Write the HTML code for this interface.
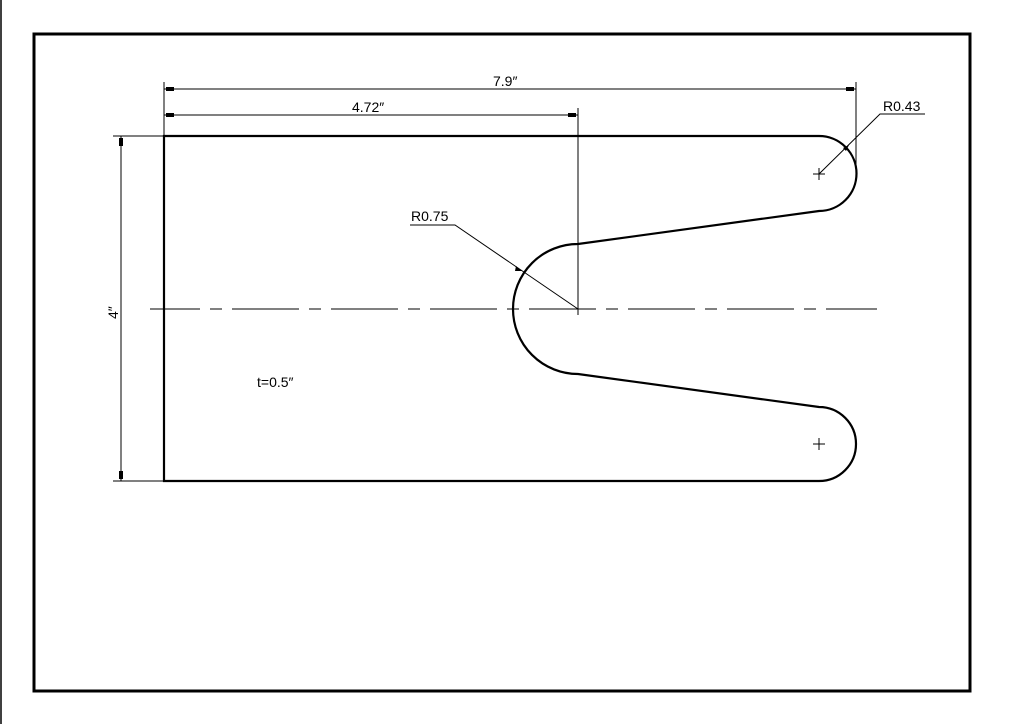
<!DOCTYPE html>
<html><head><meta charset="utf-8"><style>
html,body{margin:0;padding:0;background:#fff;}
svg{display:block;}
text{font-family:"Liberation Sans",sans-serif;font-size:14px;fill:#000;}
</style></head><body>
<svg width="1029" height="724" viewBox="0 0 1029 724" xmlns="http://www.w3.org/2000/svg">
<rect x="0" y="0" width="1029" height="724" fill="#fff"/>
<line x1="1" y1="0" x2="1" y2="724" stroke="#000" stroke-width="1.5"/>
<rect x="34" y="34" width="936" height="657" fill="none" stroke="#000" stroke-width="3"/>
<path d="M164,136 L819,136 A37,37 0 0 1 819,211 L578,244 A65,65 0 0 0 578,374 L819,407 A37,37 0 0 1 819,481 L164,481 Z" fill="none" stroke="#000" stroke-width="2.2"/>
<line x1="150" y1="309" x2="877" y2="309" stroke="#000" stroke-width="1" stroke-dasharray="50 10 12 10 67 10 12 10 67 10 12 10 67 10 12 10 67 10 12 10 67 10 12 10 67 10 12 10 67 10 12 10 67 10 12 10 67 10 12 10 67 10"/>
<g stroke="#000" stroke-width="1" fill="none">
<line x1="164" y1="82" x2="164" y2="136"/>
<line x1="856" y1="82" x2="856" y2="180"/>
<line x1="164" y1="89" x2="856" y2="89"/>
<line x1="164" y1="115" x2="578" y2="115"/>
<line x1="578" y1="108" x2="578" y2="315"/>
<line x1="572" y1="309" x2="584" y2="309"/>
<line x1="113" y1="136" x2="164" y2="136"/>
<line x1="113" y1="481" x2="164" y2="481"/>
<line x1="121" y1="136" x2="121" y2="481"/>
<polyline points="819,174 880,114 925,114"/>
<polyline points="578,309 455,225 410,225"/>
<line x1="813" y1="174" x2="825" y2="174"/><line x1="819" y1="168" x2="819" y2="180"/>
<line x1="813" y1="444" x2="825" y2="444"/><line x1="819" y1="438" x2="819" y2="450"/>
</g>
<g fill="#000">
<rect x="166" y="87" width="8" height="4"/>
<rect x="846" y="87" width="8" height="4"/>
<rect x="166" y="113" width="8" height="4"/>
<rect x="568" y="113" width="8" height="4"/>
<rect x="119" y="138" width="4" height="8"/>
<rect x="119" y="471" width="4" height="8"/>
<polygon points="849,145 843,148 846,151"/>
<polygon points="522,271 516,266 515,271"/>
</g>
<text x="493" y="86">7.9″</text>
<text x="352" y="112">4.72″</text>
<text x="883" y="111">R0.43</text>
<text x="411" y="221">R0.75</text>
<text x="257" y="387">t=0.5″</text>
<text x="0" y="0" transform="translate(118,319) rotate(-90)">4″</text>
</svg>
</body></html>
